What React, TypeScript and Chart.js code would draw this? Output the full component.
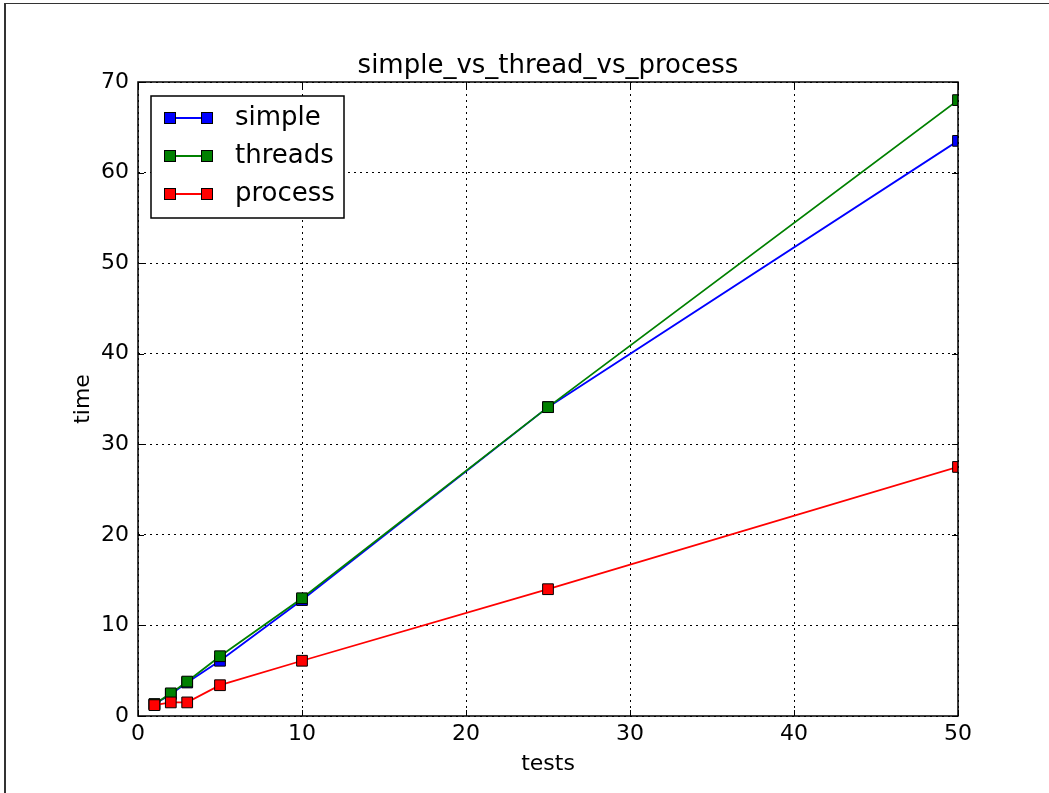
import React, { useEffect, useRef } from 'react';
import { Chart, registerables } from 'chart.js';

Chart.register(...registerables);

const tests = [1, 2, 3, 5, 10, 25, 50];
const simpleTimes = [1.3, 2.4, 3.7, 6.1, 12.8, 34.1, 63.5];
const threadTimes = [1.3, 2.5, 3.8, 6.6, 13.0, 34.1, 68.0];
const processTimes = [1.2, 1.5, 1.5, 3.4, 6.1, 14.0, 27.5];
const seriesNames = ['simple', 'threads', 'process'];
const seriesColors = ['#0000ff', '#008000', '#ff0000'];
const xTicks = [0, 10, 20, 30, 40, 50];
const yTicks = [0, 10, 20, 30, 40, 50, 60, 70];
const titleText = 'simple_vs_thread_vs_process';
const xLabel = 'tests';
const yLabel = 'time';

const FONT = '"DejaVu Sans", sans-serif';

function drawMarker(ctx: CanvasRenderingContext2D, x: number, y: number, color: string) {
  const s = 11;
  ctx.fillStyle = color;
  ctx.fillRect(x - s / 2, y - s / 2, s, s);
  ctx.strokeStyle = '#000';
  ctx.lineWidth = 1;
  ctx.strokeRect(x - s / 2, y - s / 2, s, s);
}

const decorPlugin = {
  id: 'decor',
  afterDatasetsDraw(chart: any) {
    const { ctx, chartArea: a, scales } = chart;
    ctx.save();
    // inward ticks
    ctx.strokeStyle = '#000';
    ctx.lineWidth = 1;
    ctx.setLineDash([]);
    const tickLen = 6;
    for (const v of xTicks) {
      const x = Math.round(scales.x.getPixelForValue(v)) + 0.5;
      ctx.beginPath();
      ctx.moveTo(x, a.bottom);
      ctx.lineTo(x, a.bottom - tickLen);
      ctx.moveTo(x, a.top);
      ctx.lineTo(x, a.top + tickLen);
      ctx.stroke();
    }
    for (const v of yTicks) {
      const y = Math.round(scales.y.getPixelForValue(v)) + 0.5;
      ctx.beginPath();
      ctx.moveTo(a.left, y);
      ctx.lineTo(a.left + tickLen, y);
      ctx.moveTo(a.right, y);
      ctx.lineTo(a.right - tickLen, y);
      ctx.stroke();
    }
    // frame
    ctx.lineWidth = 1.5;
    ctx.strokeStyle = '#000';
    ctx.strokeRect(a.left, a.top, a.right - a.left, a.bottom - a.top);

    // legend
    const lx = a.left + 13;
    const ly = a.top + 14;
    const lw = 193;
    const lh = 122;
    ctx.fillStyle = '#fff';
    ctx.fillRect(lx, ly, lw, lh);
    ctx.lineWidth = 1.5;
    ctx.strokeStyle = '#000';
    ctx.strokeRect(lx, ly, lw, lh);
    ctx.font = `26px ${FONT}`;
    ctx.textAlign = 'left';
    ctx.textBaseline = 'middle';
    seriesNames.forEach((name, i) => {
      const cy = ly + 22 + i * 38;
      const m1 = lx + 19;
      const m2 = lx + 56;
      ctx.strokeStyle = seriesColors[i];
      ctx.lineWidth = 1.8;
      ctx.beginPath();
      ctx.moveTo(m1, cy);
      ctx.lineTo(m2, cy);
      ctx.stroke();
      drawMarker(ctx, m1, cy, seriesColors[i]);
      drawMarker(ctx, m2, cy, seriesColors[i]);
      ctx.fillStyle = '#000';
      ctx.fillText(name, lx + 84, cy);
    });

    // title and axis labels
    const cx = (a.left + a.right) / 2;
    ctx.fillStyle = '#000';
    ctx.textAlign = 'center';
    ctx.textBaseline = 'alphabetic';
    ctx.font = `26px ${FONT}`;
    ctx.fillText(titleText, cx, a.top - 9);
    ctx.font = `22px ${FONT}`;
    ctx.fillText(xLabel, cx, a.bottom + 54);
    ctx.translate(a.left - 49, (a.top + a.bottom) / 2);
    ctx.rotate(-Math.PI / 2);
    ctx.fillText(yLabel, 0, 0);
    ctx.restore();
  },
};

export default function App() {
  const ref = useRef<HTMLCanvasElement | null>(null);

  useEffect(() => {
    if (!ref.current) return;
    const series = [simpleTimes, threadTimes, processTimes];
    const chart = new Chart(ref.current, {
      type: 'line',
      data: {
        datasets: series.map((vals, i) => ({
          label: seriesNames[i],
          data: tests.map((t, j) => ({ x: t, y: vals[j] })),
          borderColor: seriesColors[i],
          backgroundColor: seriesColors[i],
          borderWidth: 1.8,
          pointStyle: 'rect',
          pointRadius: 7.6,
          pointBackgroundColor: seriesColors[i],
          pointBorderColor: '#000',
          pointBorderWidth: 1,
          tension: 0,
          fill: false,
          order: 3 - i,
        })),
      },
      options: {
        animation: false,
        responsive: false,
        events: [],
        layout: { padding: { left: 78, right: 91, top: 82, bottom: 0 } },
        plugins: {
          legend: { display: false },
          title: { display: false },
          tooltip: { enabled: false },
        },
        scales: {
          x: {
            type: 'linear',
            min: 0,
            max: 50,
            afterBuildTicks: (s: any) => {
              s.ticks = xTicks.map((v) => ({ value: v }));
            },
            afterFit: (s: any) => {
              s.height = 77;
            },
            grid: { color: '#000', lineWidth: 1, drawTicks: false },
            border: { display: false, dash: [2, 4] },
            ticks: {
              color: '#000',
              font: { family: FONT, size: 22 },
              padding: 5,
              maxRotation: 0,
              autoSkip: false,
            },
          },
          y: {
            type: 'linear',
            min: 0,
            max: 70,
            afterBuildTicks: (s: any) => {
              s.ticks = yTicks.map((v) => ({ value: v }));
            },
            afterFit: (s: any) => {
              s.width = 60;
            },
            grid: { color: '#000', lineWidth: 1, drawTicks: false },
            border: { display: false, dash: [2, 4] },
            ticks: {
              color: '#000',
              font: { family: FONT, size: 22 },
              padding: 9,
              autoSkip: false,
            },
          },
        },
      },
      plugins: [decorPlugin],
    } as any);
    return () => chart.destroy();
  }, []);

  return (
    <div style={{ position: 'fixed', left: 0, top: 0, width: 1049, height: 793, background: '#fff', overflow: 'hidden' }}>
      <div style={{ position: 'absolute', left: 4, top: 3, width: 2, height: 790, background: '#333' }} />
      <div style={{ position: 'absolute', left: 4, top: 3, width: 1045, height: 1, background: '#333' }} />
      <canvas ref={ref} width={1049} height={793} style={{ position: 'absolute', left: 0, top: 0, width: 1049, height: 793 }} />
    </div>
  );
}
